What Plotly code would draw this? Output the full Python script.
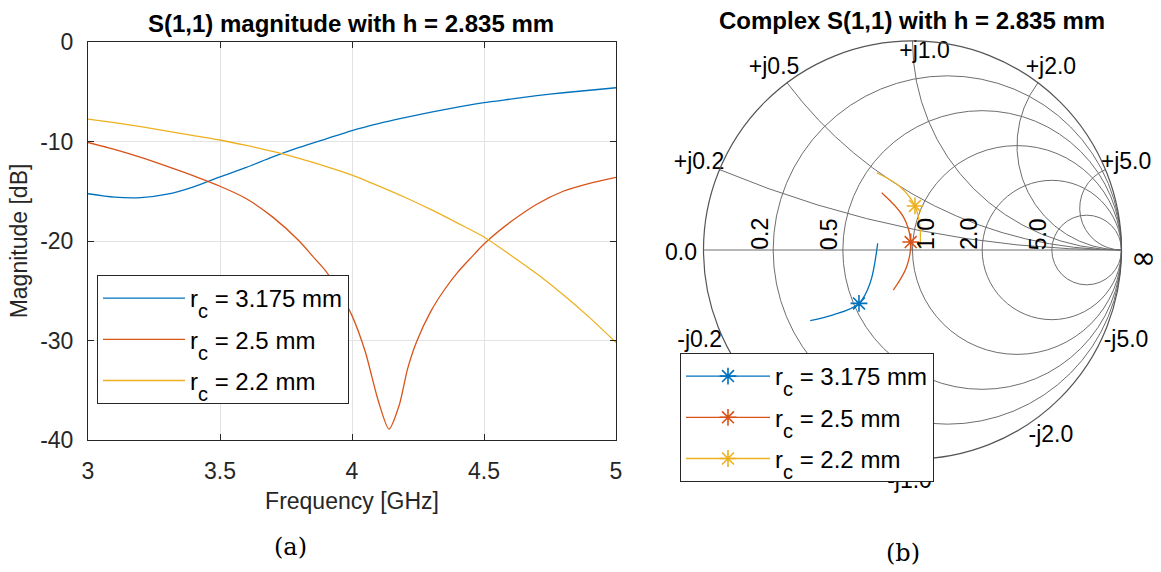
import plotly.graph_objects as go

# ---------------- data ----------------
freq = [3.0, 3.1, 3.2, 3.3, 3.4, 3.5, 3.6, 3.7, 3.8, 3.9, 4.0, 4.1, 4.2, 4.3, 4.4, 4.5, 4.6, 4.7, 4.8, 4.9, 5.0]
mag_3175 = [-15.25, -15.6, -15.65, -15.3, -14.55, -13.55, -12.6, -11.55, -10.6, -9.75, -8.9, -8.2, -7.6, -7.05, -6.55, -6.1, -5.75, -5.4, -5.1, -4.85, -4.6]
freq_25 = [3.0, 3.1, 3.2, 3.3, 3.4, 3.5, 3.6, 3.7, 3.8, 3.85, 3.9, 3.95, 4.0, 4.05, 4.1, 4.14, 4.18, 4.21, 4.245,
           4.3, 4.35, 4.4, 4.45, 4.5, 4.6, 4.7, 4.8, 4.9, 5.0]
mag_25 = [-10.1, -10.8, -11.6, -12.5, -13.45, -14.5, -15.75, -17.6, -20.0, -21.5, -23.0, -25.0, -27.5, -31.1, -36.1,
          -38.9, -36.4, -32.9, -30.1, -27.0, -24.9, -23.15, -21.7, -20.3, -18.1, -16.3, -15.0, -14.2, -13.6]
mag_22 = [-7.75, -8.1, -8.5, -8.95, -9.4, -9.85, -10.4, -11.0, -11.7, -12.5, -13.37, -14.45, -15.6, -16.85, -18.2,
          -19.6, -21.4, -23.3, -25.4, -27.7, -30.2]

# Smith chart traces (normalized impedance r + jx)
z_re_3175 = [0.713, 0.634, 0.529, 0.380, 0.277]
z_im_3175 = [0.047, -0.216, -0.311, -0.311, -0.290]
z_re_25 = [0.649, 0.872, 0.980, 0.934, 0.777]
z_im_25 = [0.394, 0.286, 0.075, -0.150, -0.312]
z_re_22 = [0.553, 0.745, 0.936, 1.047, 1.074]
z_im_22 = [0.490, 0.499, 0.413, 0.237, 0.017]
marker_idx = [2, 2, 2]  # index of highlighted point in each smith trace

SUB = '<span style="font-size:20px;baseline-shift:-11px">c</span>'
labels = [f"r{SUB} = 3.175 mm", f"r{SUB} = 2.5 mm", f"r{SUB} = 2.2 mm"]
colors = ["#0072BD", "#D95319", "#EDB120"]
smith_ticks = [0.2, 0.5, 1.0, 2.0, 5.0]
x_ticks = [3, 3.5, 4, 4.5, 5]
y_ticks = [0, -10, -20, -30, -40]

W, H = 1161, 572
FONT = "Liberation Sans"
SERIF = "DejaVu Serif"
FS = 23
LFS = 24

fig = go.Figure()

# left: magnitude
for i, (xs, ys, lab, col) in enumerate([(freq, mag_3175, labels[0], colors[0]),
                                        (freq_25, mag_25, labels[1], colors[1]),
                                        (freq, mag_22, labels[2], colors[2])]):
    fig.add_trace(go.Scatter(x=xs, y=ys, mode="lines", name=lab,
                             line=dict(color=col, width=1.3, shape="spline", smoothing=0.7),
                             legend="legend", legendgroup=f"a{i}"))

# smith geometry in page pixels
cx, cy, R = 912.5, 250, 209


def gam(r, x):
    z = complex(r, x)
    return (z - 1) / (z + 1)


def px_to_z(px, py):
    g = complex((px - cx) / R, -(py - cy) / R)
    z = (1 + g) / (1 - g)
    return z.real, z.imag


# rim (reactance) labels as a text trace inside the smith subplot (so legend covers them)
rim_offsets = {0.2: (-20.6, -6.5), 0.5: (-13, -14.8), 1.0: (12, 11), 2.0: (13, -14.8), 5.0: (20.6, -6.5),
               -0.2: (-20, 11), -0.5: (-13, 19.5), -1.0: (-3, 23), -2.0: (13, 19.5), -5.0: (20.6, 11)}
rim_re, rim_im, rim_txt = [], [], []
for v in smith_ticks:
    for s in (1, -1):
        g = gam(0, s * v)
        px, py = cx + R * g.real, cy - R * g.imag
        dx, dy = rim_offsets[s * v]
        zr, zi = px_to_z(px + dx, py + dy)
        rim_re.append(zr)
        rim_im.append(zi)
        rim_txt.append(("+j" if s > 0 else "-j") + f"{v:.1f}")
fig.add_trace(go.Scattersmith(real=rim_re, imag=rim_im, text=rim_txt, mode="text",
                              textposition="middle center", cliponaxis=False,
                              textfont=dict(size=FS, family=FONT, color="black"),
                              hoverinfo="skip", showlegend=False, subplot="smith"))

# right: smith chart data
smith_data = [(z_re_3175, z_im_3175), (z_re_25, z_im_25), (z_re_22, z_im_22)]
for i, ((re, im), lab, col, mi) in enumerate(zip(smith_data, labels, colors, marker_idx)):
    fig.add_trace(go.Scattersmith(real=re, imag=im, mode="lines", name=lab,
                                  line=dict(color=col, width=1.3, shape="spline"),
                                  showlegend=False, subplot="smith"))
    fig.add_trace(go.Scattersmith(real=[re[mi]], imag=[im[mi]], mode="lines+markers", name=lab,
                                  line=dict(color=col, width=1.3),
                                  marker=dict(symbol="asterisk-open", size=14,
                                              line=dict(color=col, width=1.6)),
                                  legend="legend2", legendgroup=f"b{i}", subplot="smith"))


def to_paper(px, py):
    return px / W, 1 - py / H


annotations = [
    dict(text="<b>S(1,1) magnitude with h = 2.835 mm</b>", x=351 / W, y=1 - 23 / H,
         xanchor="center", yanchor="middle",
         xref="paper", yref="paper", showarrow=False, font=dict(size=24, family=FONT, color="black")),
    dict(text="<b>Complex S(1,1) with h = 2.835 mm</b>", x=912 / W, y=1 - 20 / H,
         xanchor="center", yanchor="middle",
         xref="paper", yref="paper", showarrow=False, font=dict(size=24, family=FONT, color="black")),
    dict(text="(a)", x=290 / W, y=1 - 547 / H, xanchor="center", yanchor="middle",
         xref="paper", yref="paper", showarrow=False,
         font=dict(size=24, family=SERIF, color="black")),
    dict(text="(b)", x=903 / W, y=1 - 553 / H, xanchor="center", yanchor="middle",
         xref="paper", yref="paper", showarrow=False,
         font=dict(size=24, family=SERIF, color="black")),
]
# real-axis labels (rotated)
for v in smith_ticks:
    g = gam(v, 0)
    px = cx + R * g.real + (13.5 if v == 1.0 else -13.5)
    xx, yy = to_paper(px, 234)
    annotations.append(dict(text=f"{v:.1f}", x=xx, y=yy, textangle=-90,
                            xanchor="center", yanchor="middle", xref="paper", yref="paper",
                            showarrow=False, font=dict(size=FS, family=FONT, color="black")))
xx, yy = to_paper(cx - R - 22, cy + 2)
annotations.append(dict(text="0.0", x=xx, y=yy, xanchor="center", yanchor="middle",
                        xref="paper", yref="paper", showarrow=False,
                        font=dict(size=FS, family=FONT, color="black")))
xx, yy = to_paper(cx + R + 22, cy + 7)
annotations.append(dict(text="∞", x=xx, y=yy, xanchor="center", yanchor="middle",
                        xref="paper", yref="paper", showarrow=False,
                        font=dict(size=30, family="DejaVu Sans", color="black")))

axis_font = dict(size=FS, family=FONT, color="#262626")
fig.update_layout(
    width=W, height=H,
    margin=dict(l=0, r=0, t=0, b=0),
    paper_bgcolor="white", plot_bgcolor="white",
    font=dict(family=FONT, color="#262626"),
    showlegend=True,
    xaxis=dict(domain=[88 / W, 616 / W], range=[3, 5], tickvals=x_ticks,
               ticktext=[str(v) for v in x_ticks], automargin=False,
               showgrid=True, gridcolor="#e3e3e3", gridwidth=1,
               showline=True, linecolor="#262626", linewidth=1, mirror="ticks",
               ticks="inside", ticklen=6, tickcolor="#262626",
               tickfont=axis_font, ticklabelstandoff=10,
               title=dict(text="Frequency [GHz]", font=axis_font, standoff=10),
               zeroline=False),
    yaxis=dict(domain=[1 - 440 / H, 1 - 42 / H], range=[-40, 0], tickvals=y_ticks,
               ticktext=[str(v) for v in y_ticks], automargin=False,
               showgrid=True, gridcolor="#e3e3e3", gridwidth=1,
               showline=True, linecolor="#262626", linewidth=1, mirror="ticks",
               ticks="inside", ticklen=6, tickcolor="#262626",
               tickfont=axis_font, ticklabelstandoff=9,
               title=dict(text="Magnitude [dB]", font=axis_font, standoff=6),
               zeroline=False),
    smith=dict(
        domain=dict(x=[(cx - R) / W, (cx + R) / W], y=[1 - (cy + R) / H, 1 - (cy - R) / H]),
        bgcolor="white",
        realaxis=dict(tickvals=smith_ticks, gridcolor="#6e6e6e", gridwidth=1,
                      linecolor="#6e6e6e", showticklabels=False, ticks=""),
        imaginaryaxis=dict(tickvals=smith_ticks, gridcolor="#6e6e6e", gridwidth=1,
                           linecolor="#555555", linewidth=1.2, showticklabels=False, ticks=""),
    ),
    legend=dict(x=97 / W, y=1 - 275 / H, xanchor="left", yanchor="top",
                bgcolor="white", bordercolor="#262626", borderwidth=1, tracegroupgap=7,
                traceorder="grouped",
                font=dict(size=LFS, family=FONT, color="black"), itemwidth=82),
    legend2=dict(x=680 / W, y=1 - 353 / H, xanchor="left", yanchor="top",
                 bgcolor="white", bordercolor="#262626", borderwidth=1, tracegroupgap=7,
                 traceorder="grouped",
                 font=dict(size=LFS, family=FONT, color="black"), itemwidth=84),
    annotations=annotations,
)

fig.write_html("out.html", config={"displayModeBar": False},
               post_script="document.body.style.margin='0px';")
